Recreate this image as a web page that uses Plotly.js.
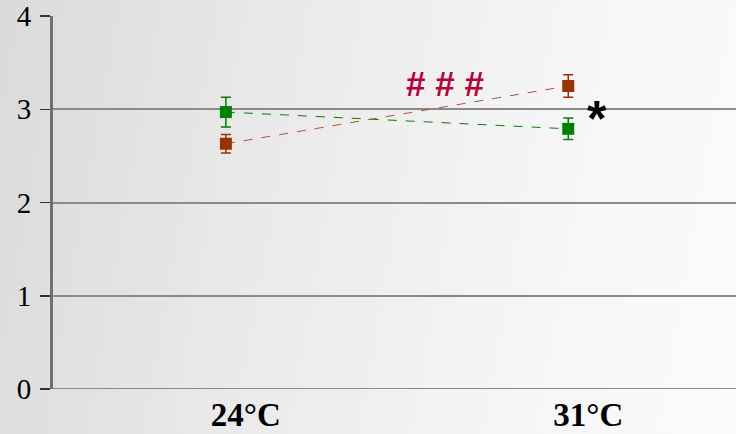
<!DOCTYPE html>
<html><head><meta charset="utf-8">
<script src="https://cdn.plot.ly/plotly-3.0.1.min.js"></script>
<style>
html,body{margin:0;padding:0;}
#chart{width:736px;height:434px;background:linear-gradient(100deg,#dadada 0%,#e9e9e9 35%,#f5f5f5 70%,#fbfbfb 100%);}
</style></head>
<body><div id="chart"></div>
<script>
const categories = ['24°C', '31°C'];
const greenValues = [2.97, 2.79];
const greenErrors = [0.16, 0.115];
const brownValues = [2.63, 3.25];
const brownErrors = [0.1, 0.12];
const yTicks = [0, 1, 2, 3, 4];

const traces = [
  {x: categories, y: greenValues, type: 'scatter', mode: 'lines+markers',
   line: {color: '#008000', width: 1, dash: 'dash'},
   marker: {symbol: 'square', size: 12, color: '#008000'},
   error_y: {type: 'data', array: greenErrors, visible: true, color: '#008000', thickness: 1.5, width: 5}},
  {x: categories, y: brownValues, type: 'scatter', mode: 'lines+markers',
   line: {color: '#b5542a', width: 1, dash: 'dash'},
   marker: {symbol: 'square', size: 12, color: '#993300'},
   error_y: {type: 'data', array: brownErrors, visible: true, color: '#993300', thickness: 1.5, width: 5}}
];

const layout = {
  width: 736, height: 434,
  margin: {l: 53, r: 0, t: 16, b: 45},
  paper_bgcolor: 'rgba(0,0,0,0)', plot_bgcolor: 'rgba(0,0,0,0)',
  showlegend: false,
  xaxis: {type: 'category', range: [-0.505, 1.49], showgrid: false, zeroline: false, showline: false,
    ticks: '', tickfont: {family: 'Liberation Serif', size: 33, color: '#000', weight: 'bold'},
    ticklabelstandoff: 3, ticklabelshift: 20},
  yaxis: {range: [0, 4], tickvals: yTicks, ticktext: yTicks.map(String),
    showgrid: true, gridcolor: '#8a8a8a', gridwidth: 2,
    zeroline: false, showline: true, linecolor: '#707070', linewidth: 3,
    ticks: 'outside', ticklen: 10, tickcolor: '#333', tickwidth: 1.5,
    tickfont: {family: 'Liberation Serif', size: 29, color: '#000'}, ticklabelstandoff: 3},
  shapes: [{type: 'line', xref: 'paper', yref: 'y', x0: 0, x1: 1, y0: 0, y1: 0, line: {color: '#8a8a8a', width: 2}}],
  annotations: [
    {x: 0.64, y: 3.28, xref: 'x', yref: 'y', text: '# # #', showarrow: false,
     font: {family: 'Liberation Sans', size: 35, color: '#b8003a', weight: 'bold'}},
    {x: 1.085, y: 2.90, xref: 'x', yref: 'y', text: '*', showarrow: false,
     font: {family: 'Liberation Sans', size: 50, color: '#000', weight: 'bold'}}
  ]
};
Plotly.newPlot('chart', traces, layout, {displayModeBar: false, staticPlot: true});
</script></body></html>
